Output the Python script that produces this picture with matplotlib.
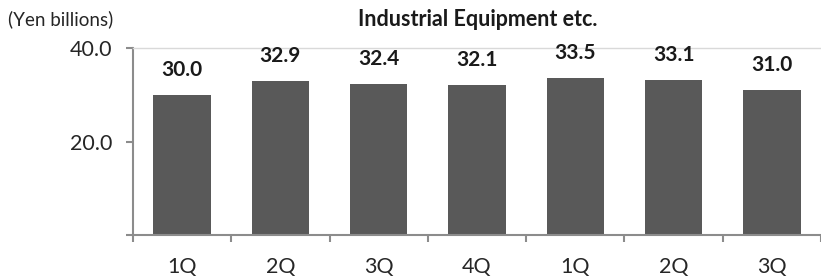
import matplotlib
matplotlib.use("Agg")
import matplotlib.pyplot as plt
import numpy as np

categories = ["1Q", "2Q", "3Q", "4Q", "1Q", "2Q", "3Q"]
values = [30.0, 32.9, 32.4, 32.1, 33.5, 33.1, 31.0]
value_labels = ["30.0", "32.9", "32.4", "32.1", "33.5", "33.1", "31.0"]
yticks = [0, 20, 40]
ytick_labels = ["", "20.0", "40.0"]
title = "Industrial Equipment etc."
unit = "(Yen billions)"

plt.rcParams['font.family'] = ['Lato', 'DejaVu Sans']

W, H = 821, 278
fig = plt.figure(figsize=(W / 100, H / 100), dpi=100)
left_px, right_px, top_px, bot_px = 133, 821, 48, 235
ax = fig.add_axes([left_px / W, (H - bot_px) / H, (right_px - left_px) / W, (bot_px - top_px) / H])

x = np.arange(len(values))
ax.bar(x, values, width=0.585, color="#595959", zorder=2)
for xi, v, lab in zip(x, values, value_labels):
    ax.annotate(lab, (xi, v), xytext=(0, 18), textcoords="offset points",
                ha="center", va="center", fontsize=15, fontweight="bold", color="#1a1a1a")

ax.set_xlim(-0.5, 6.5 - 5 / 99)
ax.set_ylim(0, 40)
ax.set_yticks(yticks)
ax.set_yticklabels(ytick_labels)
ax.set_xticks(np.arange(-0.5, 7.0, 1.0))
ax.set_xticklabels([])
ax.set_xticks(x, minor=True)
ax.set_xticklabels(categories, minor=True)
ax.tick_params(axis="x", which="minor", length=0, pad=16, labelsize=15.5, labelcolor="#262626")
ax.tick_params(axis="x", which="major", length=5, width=1.5, color="#8c8c8c", direction="out")
ax.tick_params(axis="y", length=5, width=1.5, color="#8c8c8c", direction="out", pad=10,
               labelsize=15.5, labelcolor="#262626")

ax.spines["right"].set_visible(False)
ax.spines["top"].set_color("#d9d9d9")
ax.spines["top"].set_linewidth(1.0)
for s in ["left", "bottom"]:
    ax.spines[s].set_color("#8c8c8c")
    ax.spines[s].set_linewidth(1.5)

fig.text(478 / W, 1 - 20 / H, title, ha="center", va="center", fontsize=15.5, fontweight="bold", color="#1a1a1a")
fig.text(8 / W, 1 - 19 / H, unit, ha="left", va="center", fontsize=13.5, color="#262626")

fig.savefig("out.png", dpi=100)
